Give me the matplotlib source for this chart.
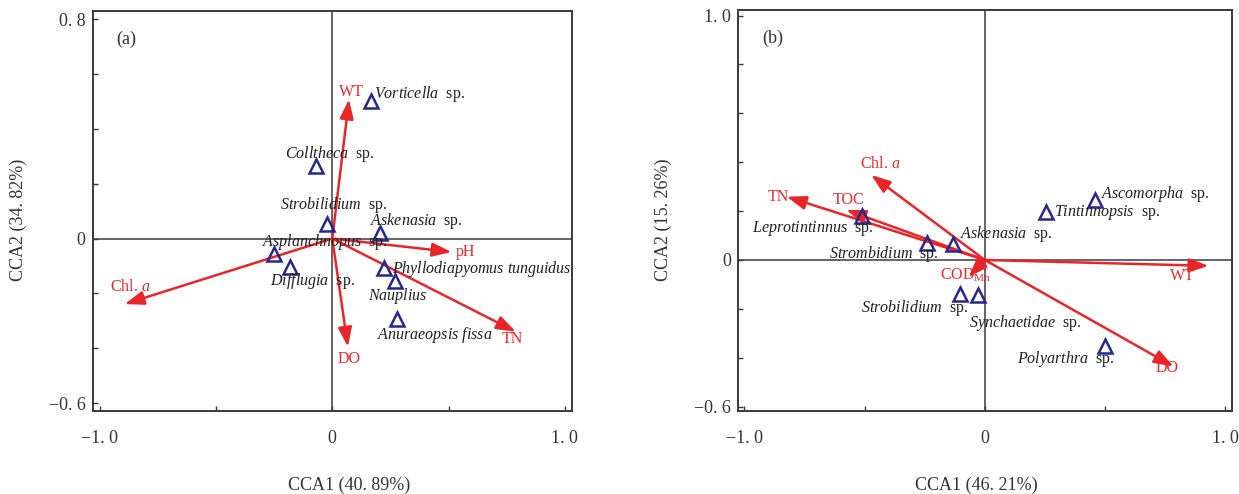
import matplotlib
matplotlib.use("Agg")
import matplotlib.pyplot as plt
from matplotlib.patches import ArrowStyle

plt.rcParams['font.family'] = ['Liberation Serif', 'DejaVu Serif']
plt.rcParams['mathtext.fontset'] = 'custom'
plt.rcParams['mathtext.rm'] = 'Liberation Serif'
plt.rcParams['mathtext.it'] = 'Liberation Serif:italic'
plt.rcParams['mathtext.bf'] = 'Liberation Serif:bold'

# ---------------- data: panel (a) ----------------
species_a = ["Vorticella", "Colltheca", "Strobilidium", "Askenasia", "Asplanchnopus",
             "Difflugia", "Phyllodiapyomus tunguidus", "Nauplius", "Anuraeopsis fissa"]
species_a_sp = [True, True, True, True, True, True, False, False, False]
species_a_x = [0.166, -0.071, -0.023, 0.206, -0.250, -0.180, 0.221, 0.268, 0.277]
species_a_y = [0.503, 0.265, 0.053, 0.021, -0.058, -0.103, -0.106, -0.155, -0.293]

env_a = ["WT", "pH", "TN", "DO", "Chl.a"]
env_a_x = [0.072, 0.513, 0.789, 0.067, -0.893]
env_a_y = [0.508, -0.049, -0.340, -0.395, -0.239]

axis_a = ["CCA1 (40. 89%)", "CCA2 (34. 82%)"]

# ---------------- data: panel (b) ----------------
species_b = ["Ascomorpha", "Tintinnopsis", "Leprotintinnus", "Strombidium", "Askenasia",
             "Strobilidium", "Synchaetidae", "Polyarthra"]
species_b_sp = [True] * 8
species_b_x = [0.459, 0.255, -0.512, -0.239, -0.133, -0.102, -0.029, 0.500]
species_b_y = [0.246, 0.198, 0.180, 0.069, 0.066, -0.140, -0.143, -0.354]

env_b = ["Chl.a", "TN", "TOC", "CODMn", "WT", "DO"]
env_b_x = [-0.473, -0.824, -0.577, -0.068, 0.931, 0.785]
env_b_y = [0.348, 0.259, 0.205, -0.070, -0.024, -0.436]

axis_b = ["CCA1 (46. 21%)", "CCA2 (15. 26%)"]

# ---------------- layout: label anchors (data coords) ----------------
sp_pos_a = [(0.179, 0.527), (-0.203, 0.308), (-0.225, 0.122), (0.162, 0.065),
            (-0.301, -0.014), (-0.268, -0.155), (0.255, -0.110), (0.155, -0.210),
            (0.191, -0.350)]
env_pos_a = [((0.083, 0.535), 'center'), ((0.529, -0.049), 'left'),
             ((0.775, -0.368), 'center'), ((0.073, -0.441), 'center'),
             ((-0.955, -0.176), 'left')]

sp_pos_b = [(0.484, 0.269), (0.288, 0.194), (-0.970, 0.130), (-0.648, 0.025),
            (-0.103, 0.106), (-0.515, -0.197), (-0.064, -0.256), (0.133, -0.405)]
env_pos_b = [((-0.519, 0.393), 'left'), ((-0.858, 0.257), 'center'),
             ((-0.568, 0.246), 'center'), ((-0.186, -0.061), 'left'),
             ((0.820, -0.065), 'center'), ((0.760, -0.443), 'center')]

RED = '#e8262a'
NAVY = '#27288c'
AXC = '#3a3a3a'
TXT = '#1e1e1e'


def fmt_tick(v):
    if abs(v) < 1e-9:
        return "0"
    s = f"{abs(v):.1f}".replace(".", ". ")
    return ("\u2212" if v < 0 else "") + s


def env_text(name):
    if name == "Chl.a":
        return r"Chl. $\mathit{a}$"
    if name == "CODMn":
        return r"COD$_{\mathrm{Mn}}$"
    return name


def species_text(name, sp):
    parts = name.split(" ")
    it = r"\ ".join(parts)
    s = r"$\mathit{" + it + "}$"
    if sp:
        s += "  sp."
    return s


def draw_panel(ax, xlim, ylim, yticks, ylabeled,
               sp_names, sp_flag, sx, sy, sp_pos,
               env_names, ex, ey, env_pos, tag):
    ax.set_xlim(*xlim)
    ax.set_ylim(*ylim)
    ax.axhline(0, color=AXC, lw=1.1, zorder=1)
    ax.axvline(0, color=AXC, lw=1.1, zorder=1)
    for s in ax.spines.values():
        s.set_color(AXC)
        s.set_linewidth(1.4)
    xt = [-1.0, -0.5, 0.0, 0.5, 1.0]
    ax.set_xticks(xt)
    ax.set_xticklabels([fmt_tick(v) if v in (-1.0, 0.0, 1.0) else "" for v in xt])
    ax.set_yticks(yticks)
    ax.set_yticklabels([fmt_tick(v) if any(abs(v - l) < 1e-9 for l in ylabeled) else ""
                        for v in yticks])
    ax.tick_params(axis='x', direction='in', length=3.5, width=1.0, color=AXC,
                   labelsize=13, labelcolor='#333333', pad=14)
    ax.tick_params(axis='y', direction='in', length=3.5, width=1.0, color=AXC,
                   labelsize=13, labelcolor='#333333', pad=5)

    style = ArrowStyle('-|>', head_length=0.9, head_width=0.32)
    for name, x, y, (pos, ha) in zip(env_names, ex, ey, env_pos):
        ax.annotate('', xy=(x, y), xytext=(0, 0),
                    arrowprops=dict(arrowstyle=style, color=RED, lw=1.8,
                                    mutation_scale=13, shrinkA=0, shrinkB=0),
                    zorder=3)
        ax.text(pos[0], pos[1], env_text(name), color=RED, fontsize=11.5,
                ha=ha, va='center', zorder=4)

    ax.plot(sx, sy, linestyle='none', marker='^', markersize=10,
            markerfacecolor='none', markeredgecolor=NAVY, markeredgewidth=1.8,
            zorder=5)
    for name, flag, (px, py) in zip(sp_names, sp_flag, sp_pos):
        ax.text(px, py, species_text(name, flag), color=TXT, fontsize=11.5,
                ha='left', va='center', zorder=6)

    ax.text(0.07, 0.93, tag, transform=ax.transAxes, fontsize=13,
            color='#333333', ha='center', va='center')


fig = plt.figure(figsize=(12.39, 4.94), dpi=100)

ax_a = fig.add_axes([0.0748, 0.1686, 0.3866, 0.8091])
draw_panel(ax_a, (-1.03, 1.029), (-0.628, 0.830),
           [-0.6, -0.4, -0.2, 0.0, 0.2, 0.4, 0.6, 0.8], [0.8, 0.0, -0.6],
           species_a, species_a_sp, species_a_x, species_a_y, sp_pos_a,
           env_a, env_a_x, env_a_y, env_pos_a, "(a)")

ax_b = fig.add_axes([0.5954, 0.1680, 0.3987, 0.8118])
draw_panel(ax_b, (-1.028, 1.027), (-0.618, 1.023),
           [-0.6, -0.4, -0.2, 0.0, 0.2, 0.4, 0.6, 0.8, 1.0], [1.0, 0.0, -0.6],
           species_b, species_b_sp, species_b_x, species_b_y, sp_pos_b,
           env_b, env_b_x, env_b_y, env_pos_b, "(b)")

# axis titles
fig.text(349 / 1239, 1 - 485 / 494, axis_a[0], fontsize=13, color='#333333',
         ha='center', va='center')
fig.text(18 / 1239, 1 - 220 / 494, axis_a[1], fontsize=13, color='#333333',
         ha='center', va='center', rotation=90)
fig.text(976 / 1239, 1 - 485 / 494, axis_b[0], fontsize=13, color='#333333',
         ha='center', va='center')
fig.text(663 / 1239, 1 - 220 / 494, axis_b[1], fontsize=13, color='#333333',
         ha='center', va='center', rotation=90)

fig.savefig("out.png", dpi=100)
